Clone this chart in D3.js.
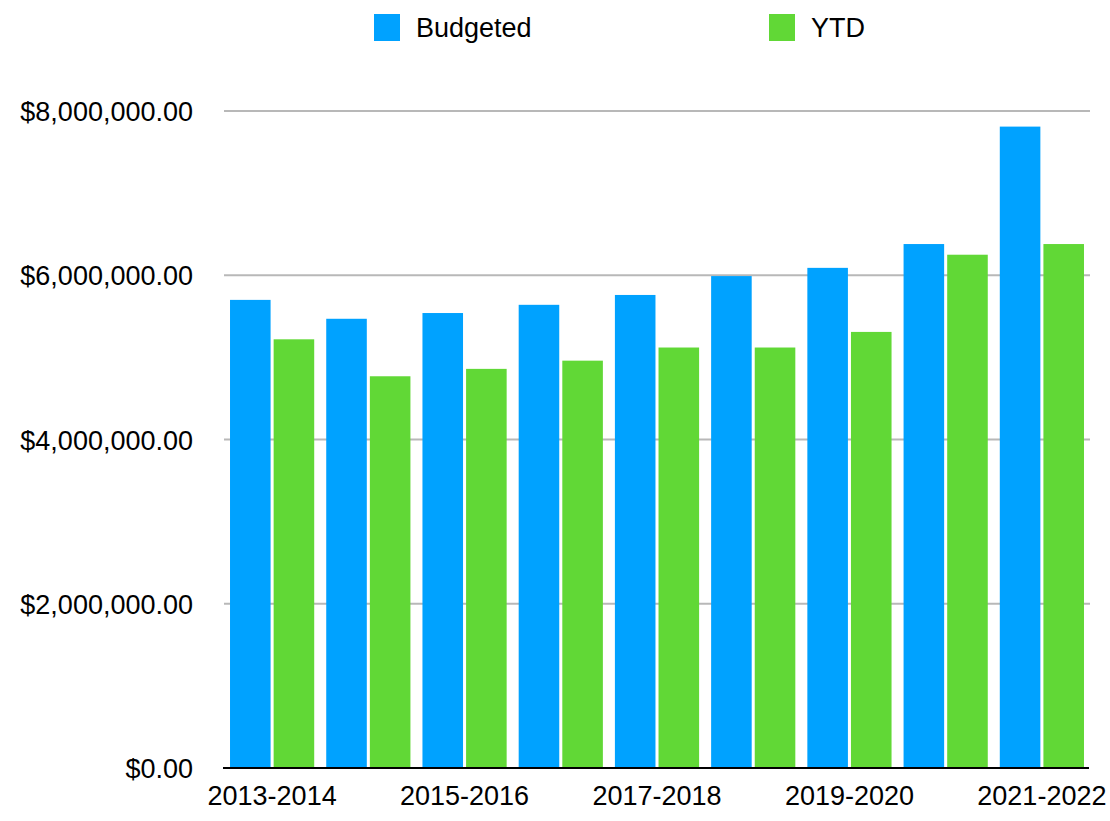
<!DOCTYPE html>
<html>
<head>
<meta charset="utf-8">
<script src="https://cdn.jsdelivr.net/npm/d3@7"></script>
<style>
  body { margin: 0; background: #fff; }
  svg { display: block; font-family: "Liberation Sans", Arial, Helvetica, sans-serif; }
</style>
</head>
<body>
<svg width="1110" height="821"></svg>
<script>
const years = ["2013-2014", "2014-2015", "2015-2016", "2016-2017", "2017-2018",
  "2018-2019", "2019-2020", "2020-2021", "2021-2022"];
const seriesNames = ["Budgeted", "YTD"];
const budgeted = [5700000, 5470000, 5540000, 5640000, 5760000, 5990000, 6090000, 6380000, 7810000];
const ytd = [5220000, 4770000, 4860000, 4960000, 5120000, 5120000, 5310000, 6250000, 6380000];
const yTicks = [0, 2000000, 4000000, 6000000, 8000000];
const xLabels = ["2013-2014", "2015-2016", "2017-2018", "2019-2020", "2021-2022"];

const blue = "#00a2ff",
  green = "#61d836";
const colors = { Budgeted: blue, YTD: green };
const fontSize = "27px";

const svg = d3.select("svg");

// scales
const x0 = d3.scaleBand().domain(years).range([224, 1090])
  .paddingInner(0.125).paddingOuter(0.0625);
const x1 = d3.scaleBand().domain(seriesNames).range([0, x0.bandwidth()])
  .paddingInner(0.07);
const yScale = d3.scaleLinear().domain([0, 8000000]).range([768, 111]);

// gridlines
svg.append("g")
  .selectAll("line.grid")
  .data(yTicks.slice(1))
  .enter()
  .append("line")
  .attr("x1", 224)
  .attr("x2", 1090)
  .attr("y1", (d) => yScale(d))
  .attr("y2", (d) => yScale(d))
  .style("stroke", "#b8b8b8")
  .style("stroke-width", 2);

// y axis labels
const yAxis = d3.axisLeft(yScale).tickValues(yTicks).tickSize(0).tickPadding(31)
  .tickFormat(d3.format("$,.2f"));
const yG = svg.append("g").attr("transform", "translate(224,0)").call(yAxis);
yG.select("path.domain").remove();
yG.selectAll("text").style("font-size", fontSize).style("fill", "#000")
  .style("font-family", "inherit").attr("dy", "0.36em");

// bars
const rows = years.map((yr, i) => ({ year: yr, Budgeted: budgeted[i], YTD: ytd[i] }));
svg.append("g")
  .selectAll("g")
  .data(rows)
  .enter()
  .append("g")
  .attr("transform", (d) => `translate(${x0(d.year)},0)`)
  .selectAll("rect")
  .data((d) => seriesNames.map((s) => ({ key: s, value: d[s] })))
  .enter()
  .append("rect")
  .attr("x", (d) => x1(d.key))
  .attr("width", x1.bandwidth())
  .attr("y", (d) => yScale(d.value))
  .attr("height", (d) => yScale(0) - yScale(d.value))
  .style("fill", (d) => colors[d.key]);

// x axis
const xAxis = d3.axisBottom(x0).tickValues(xLabels).tickSize(0).tickPadding(18);
const xG = svg.append("g").attr("transform", "translate(0,768)").call(xAxis);
xG.select("path.domain").remove();
xG.selectAll("text").style("font-size", fontSize).style("fill", "#000")
  .style("font-family", "inherit");
svg.append("line")
  .attr("x1", 223).attr("x2", 1089)
  .attr("y1", yScale(0)).attr("y2", yScale(0))
  .style("stroke", "#000").style("stroke-width", 2);

// legend
const legendX = { Budgeted: 374, YTD: 769 };
const legend = svg.append("g")
  .selectAll("g")
  .data(seriesNames)
  .enter()
  .append("g")
  .attr("transform", (d) => `translate(${legendX[d]},14)`);
legend.append("rect").attr("width", 26).attr("height", 27)
  .style("fill", (d) => colors[d]);
legend.append("text").attr("x", 42).attr("y", 23)
  .style("font-size", fontSize).style("fill", "#000")
  .text((d) => d);
</script>
</body>
</html>
